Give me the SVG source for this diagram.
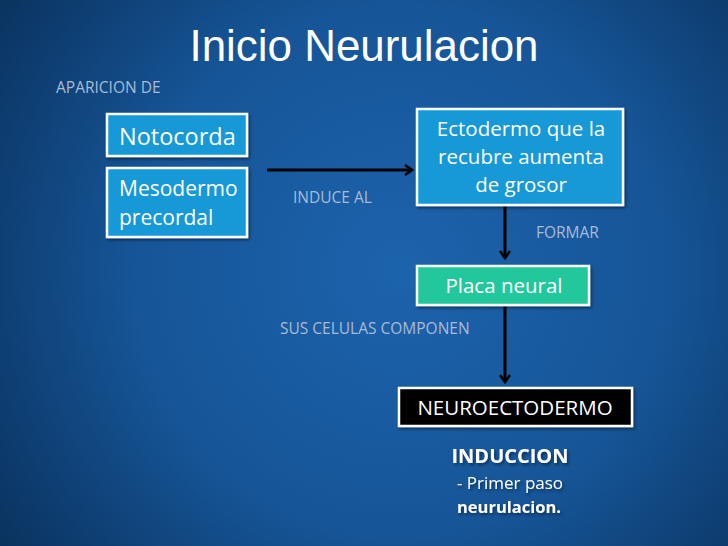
<svg xmlns="http://www.w3.org/2000/svg" width="728" height="546" viewBox="0 0 728 546">
<defs>
<radialGradient id="bg" cx="400" cy="270" r="480" gradientUnits="userSpaceOnUse">
<stop offset="0" stop-color="#1c63ad"/>
<stop offset="0.55" stop-color="#165597"/>
<stop offset="1" stop-color="#0a3360"/>
</radialGradient>
<marker id="ah" markerWidth="12" markerHeight="12" refX="9" refY="6" orient="auto" markerUnits="userSpaceOnUse">
<path d="M2,1 L9,6 L2,11" fill="none" stroke="#000" stroke-width="2.6" stroke-linejoin="miter"/>
</marker>
<filter id="sh" x="-10%" y="-10%" width="130%" height="140%">
<feDropShadow dx="1.5" dy="2" stdDeviation="1.5" flood-color="#000" flood-opacity="0.45"/>
</filter>
</defs>
<style>
.lbl{font-family:"Open Sans","Noto Sans",sans-serif;font-size:15.5px;fill:#a9bbd5}
.bx{stroke:#fff;stroke-width:2.5}
.blue{fill:#1499d6}
.green{fill:#20c79b}
.t{font-family:"Open Sans","Noto Sans",sans-serif;fill:#fff}
.conn{stroke:#000;stroke-width:3;fill:none}
</style>
<rect width="728" height="546" fill="url(#bg)"/>
<text x="364" y="61" text-anchor="middle" font-family="'Liberation Sans',Arial,sans-serif" font-size="44" fill="#fff" textLength="349" lengthAdjust="spacingAndGlyphs">Inicio Neurulacion</text>
<text class="lbl" x="56" y="93">APARICION DE</text>
<text class="lbl" x="293" y="203">INDUCE AL</text>
<text class="lbl" x="536" y="238">FORMAR</text>
<text class="lbl" x="280" y="334">SUS CELULAS COMPONEN</text>
<g id="connectors">
<line class="conn" x1="267" y1="170" x2="412" y2="170" marker-end="url(#ah)"/>
<line class="conn" x1="505" y1="205" x2="505" y2="258" marker-end="url(#ah)"/>
<line class="conn" x1="505" y1="305" x2="505" y2="382" marker-end="url(#ah)"/>
</g>
<g id="notocorda">
<rect class="bx blue" x="107" y="114" width="140" height="42" filter="url(#sh)"/>
<text class="t" x="119" y="145" font-size="23.5">Notocorda</text>
</g>
<g id="mesodermo">
<rect class="bx blue" x="107" y="168" width="140" height="69" filter="url(#sh)"/>
<text class="t" x="119" y="196" font-size="21">Mesodermo</text>
<text class="t" x="119" y="225" font-size="21">precordal</text>
</g>
<g id="ectodermo">
<rect class="bx blue" x="417" y="109" width="206" height="96" filter="url(#sh)"/>
<text class="t" x="521" y="136" font-size="20.5" text-anchor="middle">Ectodermo que la</text>
<text class="t" x="521" y="164" font-size="20.5" text-anchor="middle">recubre aumenta</text>
<text class="t" x="521" y="192" font-size="20.5" text-anchor="middle">de grosor</text>
</g>
<g id="placa">
<rect class="bx green" x="417" y="266" width="172" height="39" filter="url(#sh)"/>
<text class="t" x="504" y="293" font-size="20.5" text-anchor="middle">Placa neural</text>
</g>
<g id="neuroectodermo">
<rect class="bx" fill="#000" x="399" y="388" width="233" height="38" filter="url(#sh)"/>
<text class="t" x="515" y="415" font-size="20.5" text-anchor="middle">NEUROECTODERMO</text>
</g>
<g id="induccion" filter="url(#sh)">
<text class="t" x="510" y="463" font-size="20" font-weight="bold" text-anchor="middle">INDUCCION</text>
<text class="t" x="510" y="489" font-size="17" text-anchor="middle">- Primer paso</text>
<text class="t" x="509" y="513" font-size="16.5" font-weight="bold" text-anchor="middle">neurulacion.</text>
</g>
</svg>
